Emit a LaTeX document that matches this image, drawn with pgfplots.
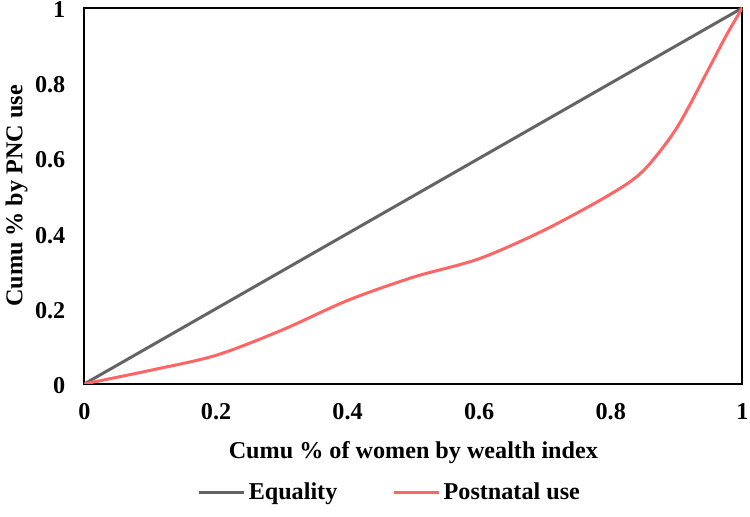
\documentclass[border=0pt]{standalone}
\usepackage{fontspec}
\setmainfont{Liberation Serif}
\usepackage{pgfplots}
\pgfplotsset{compat=1.18}

\definecolor{eqgray}{HTML}{636363}
\definecolor{pncred}{HTML}{FF6565}

\begin{document}
\begin{tikzpicture}
  \begin{axis}[
    scale only axis,
    width=394.8pt,
    height=225.6pt,
    xmin=0, xmax=1,
    ymin=0, ymax=1,
    xtick={0,0.2,...,1},
    ytick={0,0.2,...,1},
    axis line style={line width=1.2pt},
    major tick length=0pt,
    tick label style={font=\fontsize{14.5}{16}\selectfont\bfseries, inner sep=1pt},
    /pgf/number format/assume math mode=true,
    xticklabel style={yshift=-10.5pt},
    yticklabel style={xshift=-10.3pt, yshift=-1pt},
    label style={font=\fontsize{14.5}{16}\selectfont\bfseries},
    xlabel={Cumu \% of women by wealth index},
    ylabel={Cumu \% by PNC use},
    xlabel style={yshift=-8.5pt},
    ylabel style={yshift=0pt},
    legend style={
      at={(0.465,-0.288)}, anchor=center,
      draw=none,
      inner ysep=7pt,
      legend columns=2,
      font=\fontsize{14.5}{16}\selectfont\bfseries,
      /tikz/every even column/.append style={column sep=31pt}
    },
    legend image code/.code={
      \draw[#1, line width=1.8pt] (0cm,0cm) -- (27pt,0cm);
    },
  ]

    \addplot[eqgray, line width=1.8pt] coordinates {
      (0,0) (1,1)
    };
    \addlegendentry{Equality}

    \addplot[pncred, line width=1.8pt, smooth] coordinates {
      (0,0)
      (0.1,0.036)
      (0.2,0.076)
      (0.3,0.143)
      (0.4,0.222)
      (0.5,0.284)
      (0.6,0.333)
      (0.7,0.410)
      (0.8,0.505)
      (0.85,0.568)
      (0.9,0.680)
      (0.948,0.835)
      (0.975,0.925)
      (1,1)
    };
    \addlegendentry{Postnatal use}

  \end{axis}
\end{tikzpicture}
\end{document}
